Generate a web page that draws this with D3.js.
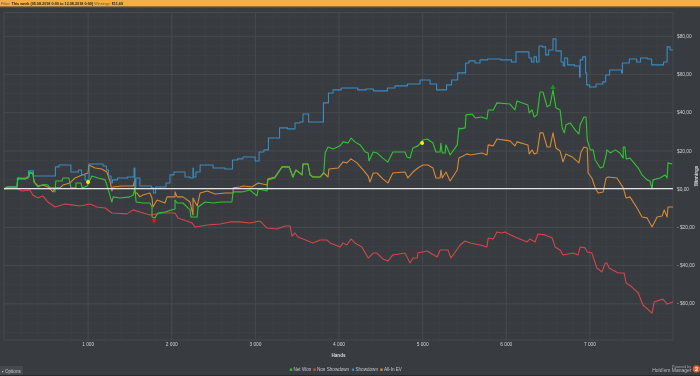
<!DOCTYPE html>
<html>
<head>
<meta charset="utf-8">
<script src="https://cdn.jsdelivr.net/npm/d3@7"></script>
<style>
  html, body { margin: 0; padding: 0; background: #383b3f; overflow: hidden; }
  text { font-family: "Liberation Sans", sans-serif; }
  svg { filter: blur(0.3px); }
</style>
</head>
<body>
<div id="chart"></div>
<script>
// Values: [hands, dollars]
const showdown = [[0,0],[50,.9],[155,.9],[165,5.6],[250,5.6],[285,6.1],[300,9.3],[345,9.3],[360,6.6],[610,6.6],[620,11.4],[695,12.4],[800,12.4],[800,8.7],[860,8.7],[920,9.8],[935,7.2],[1005,4.5],[1030,12.9],[1150,12.9],[1220,11.9],[1230,9.8],[1270,6.6],[1290,3],[1305,4.6],[1410,5.6],[1545,6.1],[1565,10.8],[1565,.9],[1590,5.6],[1660,1.4],[1745,1.4],[1780,.4],[1795,-2.3],[1830,.9],[1925,.9],[1950,3],[2020,7.2],[2045,8.7],[2140,8.7],[2190,6.1],[2260,5.6],[2260,10.8],[2270,6.1],[2320,8.7],[2370,12.4],[2440,12.4],[2560,10.8],[2725,10.3],[2740,15],[2845,15.6],[2870,16.6],[2965,16.6],[3040,14.5],[3060,19.2],[3155,20.3],[3170,26.5],[3265,26.5],[3325,31.8],[3455,31.3],[3505,34.4],[3575,34.9],[3575,39.1],[3635,39.1],[3650,34.9],[3815,34.9],[3825,44.9],[3875,44.9],[3885,50.1],[3985,51.7],[4080,52.7],[4200,52.7],[4260,51.7],[4400,52.2],[4435,51.2],[4555,51.2],[4615,52.7],[4735,53.8],[4915,54.8],[5035,56.9],[5155,54.8],[5190,51.7],[5275,51.7],[5310,54.3],[5395,56.9],[5455,60.6],[5515,60.6],[5525,65.8],[5595,66.9],[5670,65.8],[5715,67.4],[5850,67.9],[6030,67.4],[6110,66.3],[6135,71.6],[6265,71.6],[6290,68.4],[6325,66.3],[6350,69],[6385,66.3],[6410,74.7],[6460,74.2],[6495,70],[6530,72.6],[6565,72.6],[6565,78.4],[6600,78.4],[6600,72.1],[6650,72.1],[6675,66.3],[6700,64.2],[6710,68.4],[6770,64.8],[6875,64.2],[6890,58.5],[6890,67.4],[6950,69],[6960,60.6],[6975,54.3],[7030,53.2],[7130,54.8],[7190,55.9],[7200,59.5],[7285,62.1],[7380,62.1],[7390,60.6],[7400,65.8],[7465,65.8],[7490,67.9],[7560,67.9],[7570,66.3],[7655,68.4],[7740,67.9],[7750,64.8],[7845,64.8],[7930,66.3],[7930,74.2],[8000,72.6]];

const netWon = [[0,0],[50,.9],[155,.9],[165,5.6],[250,5.1],[300,6.1],[300,8.7],[345,8.2],[360,3.5],[405,.9],[455,1.9],[490,2.2],[525,1.9],[550,.4],[600,.4],[610,-1.7],[620,4],[695,4],[705,5.6],[775,5.6],[800,.4],[860,.4],[860,3],[920,3],[935,.4],[995,1.4],[1030,4.6],[1050,6.6],[1125,5.6],[1210,4.6],[1230,1.9],[1290,-7],[1305,-4.3],[1385,-4.9],[1505,-4.3],[1545,-3.3],[1565,.4],[1580,-7],[1660,-7.5],[1745,-7.5],[1770,-9.6],[1770,-14.8],[1805,-15.3],[1840,-12.7],[1925,-12.2],[2045,-10.6],[2045,-5.9],[2070,-7.5],[2140,-7.5],[2225,-11.1],[2235,-14.8],[2310,-14.8],[2320,-9.6],[2405,-7],[2500,-7.5],[2605,-7],[2725,-7],[2740,-1.7],[2845,-1.7],[2940,-.7],[3025,-3.8],[3040,-.2],[3145,-1.2],[3155,4.6],[3240,5.6],[3325,11.4],[3410,11.4],[3455,6.1],[3490,9.8],[3565,7.2],[3575,12.9],[3635,12.9],[3660,7.2],[3695,6.1],[3780,6.1],[3825,8.7],[3840,18.7],[3875,21.8],[3935,20.8],[4020,22.4],[4055,24.5],[4115,23.9],[4150,26.5],[4195,24.5],[4260,22.9],[4320,19.2],[4355,18.7],[4365,14.5],[4415,19.2],[4460,18.7],[4530,16],[4590,13.9],[4650,19.2],[4795,19.2],[4820,16.6],[4855,16],[4890,21.3],[4950,22.4],[5010,25.5],[5060,26],[5130,23.9],[5165,19.2],[5215,19.2],[5225,23.9],[5240,18.7],[5275,18.7],[5285,22.9],[5335,17.6],[5420,22.9],[5440,31.8],[5455,31.3],[5515,31.8],[5525,38.6],[5595,39.1],[5635,37],[5715,37.5],[5775,36.5],[5790,41.2],[5850,41.2],[5895,44.9],[6050,44.3],[6110,41.2],[6135,45.9],[6265,43.8],[6280,39.6],[6315,41.2],[6340,37.5],[6375,38.6],[6410,50.6],[6445,50.6],[6495,42.8],[6530,43.8],[6565,51.7],[6600,42.3],[6650,41.2],[6675,31.8],[6700,29.2],[6720,33.4],[6770,34.4],[6830,30.8],[6875,28.6],[6890,33.4],[6935,37.5],[6960,37.5],[6975,25.5],[7010,20.3],[7045,20.3],[7070,15],[7130,10.8],[7165,11.4],[7200,17.6],[7210,20.3],[7250,18.7],[7310,20.3],[7365,18.7],[7405,16],[7405,21.8],[7425,21.8],[7440,15.6],[7485,16],[7525,13.9],[7585,10.8],[7630,7.2],[7690,4.6],[7725,4],[7750,-.2],[7760,4.6],[7845,5.6],[7905,7.2],[7930,5.6],[7940,13.5],[7990,12.9]];

const nonShowdown = [[0,0],[155,0],[215,-1.2],[310,-.7],[345,-3.3],[405,-4.9],[465,-3.8],[525,-7],[610,-9.6],[730,-8],[815,-8.5],[910,-9.1],[1030,-8],[1110,-9.6],[1210,-10.1],[1290,-12.7],[1470,-13.2],[1545,-11.1],[1625,-12.2],[1745,-13.8],[1900,-12.7],[2045,-12.7],[2080,-15.3],[2250,-18],[2285,-20.1],[2430,-19],[2585,-18.5],[2705,-17.4],[2820,-17.4],[2940,-18],[3060,-16.9],[3145,-20.6],[3265,-21.1],[3360,-19.5],[3420,-19.5],[3445,-24.8],[3480,-23.2],[3515,-25.3],[3695,-28.4],[3780,-26.9],[3865,-26.9],[3900,-28.4],[4020,-30.5],[4055,-28.4],[4100,-29.5],[4150,-26.3],[4195,-28.4],[4280,-30.5],[4355,-36.3],[4415,-33.7],[4460,-33.7],[4530,-36.8],[4590,-37.9],[4650,-34.7],[4795,-33.7],[4855,-38.9],[4890,-36.3],[4940,-36.3],[4950,-33.7],[5060,-32.6],[5180,-35.8],[5215,-32.1],[5310,-32.1],[5345,-36.3],[5455,-29.5],[5515,-27.4],[5575,-28.4],[5695,-29.5],[5775,-30.5],[5790,-25.8],[5850,-26.3],[5895,-22.7],[5955,-23.2],[5990,-22.7],[6110,-25.3],[6255,-27.9],[6290,-26.3],[6350,-27.9],[6385,-23.7],[6470,-24.2],[6555,-25.8],[6590,-30.5],[6650,-32.1],[6685,-34.7],[6805,-33.7],[6865,-34.7],[6890,-30.5],[6950,-31],[6975,-33.1],[7030,-33.7],[7090,-41.5],[7150,-43.6],[7190,-38.9],[7210,-38.9],[7235,-41.5],[7345,-44.1],[7415,-44.1],[7440,-49.4],[7510,-51.5],[7585,-54.6],[7640,-60.9],[7750,-65.1],[7775,-59.3],[7880,-57.8],[7930,-60.4],[8000,-59.3]];

const allInEv = [[0,0],[50,.9],[155,.9],[165,5.1],[250,5.1],[285,5.6],[310,8.2],[345,8],[360,3.5],[405,1.4],[465,1.9],[525,.9],[585,-1.7],[610,.4],[670,.4],[705,1.9],[790,3],[850,5.6],[935,7.2],[1005,8.2],[1015,12.4],[1090,10.8],[1170,10.3],[1230,8.7],[1270,3.5],[1290,-1.2],[1305,.9],[1410,1.4],[1545,1.4],[1565,4.6],[1565,-2.3],[1590,-2.3],[1625,-4.3],[1660,-3.3],[1745,-2.3],[1770,-4.9],[1780,-9.6],[1830,-5.9],[1925,-7.5],[1950,-4.3],[2045,-4.3],[2045,-1.7],[2070,-4.3],[2140,-4.3],[2225,-7],[2260,-13.8],[2260,-4.9],[2310,-9.1],[2345,-2.3],[2430,-1.2],[2525,-2.8],[2645,-2.3],[2740,-2.3],[2740,.4],[2820,.9],[2860,1.4],[2965,.9],[3040,3],[3145,1.9],[3155,5.1],[3240,6.1],[3325,11.4],[3410,11.4],[3455,6.1],[3490,9.8],[3565,7.2],[3575,12.9],[3635,12.9],[3660,7.2],[3695,6.1],[3780,6.1],[3825,8.2],[3875,6.1],[3885,10.3],[3995,10.8],[4055,14],[4100,13.5],[4150,15.6],[4220,13.5],[4295,9.8],[4355,6.6],[4375,3.5],[4415,8.2],[4460,8.2],[4530,5.1],[4590,3],[4650,8.2],[4795,8.7],[4830,5.6],[4890,8.7],[4950,10.8],[5010,12.4],[5070,12.4],[5130,10.8],[5165,5.6],[5215,5.6],[5225,9.8],[5240,5.6],[5285,8.7],[5335,4],[5420,9.8],[5440,16.1],[5490,17.1],[5535,18.2],[5575,17.6],[5715,18.7],[5775,17.6],[5790,22.9],[5850,22.4],[5895,26],[6050,25],[6110,22.4],[6135,24.5],[6265,22.9],[6280,18.2],[6315,20.3],[6340,18.2],[6375,18.7],[6410,29.2],[6445,29.2],[6495,21.8],[6530,21.8],[6565,29.2],[6600,21.3],[6650,19.7],[6685,14],[6720,18.2],[6795,16.6],[6875,13.5],[6900,19.2],[6935,21.8],[6975,21.3],[6985,8.2],[7030,5.6],[7070,.4],[7105,-2.3],[7165,-1.7],[7200,5.6],[7225,6.1],[7330,5.6],[7405,.4],[7440,-4.9],[7485,-4.3],[7570,-10.1],[7630,-14.8],[7690,-15.3],[7750,-20.1],[7810,-14.8],[7870,-14.3],[7895,-11.1],[7930,-14.8],[7940,-9.6],[8000,-9.6]];

const xTicks = [1000, 2000, 3000, 4000, 5000, 6000, 7000];
const yTicks = [-60, -40, -20, 0, 20, 40, 60, 80];
const allInMarks = [[1005, 3.5], [5000, 23.9]];
const lowMark = [[1795, -16.8]];
const highMark = [[6565, 53]];

const legendNames = ["Net Won", "Non Showdown", "Showdown", "All-In EV"];
const legendColors = ["#33c433", "#d0474c", "#3a8bc2", "#d68a38"];
const legendX = [291, 314.5, 353, 381.5];

const W = 700, H = 376;
const plot = { left: 4, right: 673, top: 12.5, bottom: 340 };

const svg = d3.select("#chart").append("svg")
  .attr("width", W).attr("height", H)
  .style("display", "block");

svg.append("rect").attr("width", W).attr("height", H).attr("fill", "#383b3f");

// Header strip
svg.append("rect").attr("width", W).attr("height", 6.5).attr("fill", "#f4ae45");
svg.append("rect").attr("y", 6.5).attr("width", W).attr("height", 0.8).attr("fill", "#8d7444");
const header = svg.append("text").attr("x", 1).attr("y", 4.8)
  .attr("font-size", 3.75).attr("fill", "#6d5726");
header.append("tspan").text("Filter: ");
header.append("tspan").attr("font-weight", 700).attr("fill", "#2a2110")
  .text("This week (05.08.2018 0:00 to 12.08.2018 0:00)");
header.append("tspan").text(" Winnings: ");
header.append("tspan").attr("font-weight", 700).attr("fill", "#2a2110").text("$11,69");

// Scales
const x = d3.scaleLinear().domain([0, 8000]).range([plot.left, plot.right]);
const y = d3.scaleLinear().domain([-79.2, 92.2]).range([plot.bottom, plot.top]);

// Grid
const gridV = (ticks, color) => svg.append("g")
  .attr("transform", `translate(0,${plot.bottom})`)
  .call(d3.axisBottom(x).tickValues(ticks).tickSize(plot.top - plot.bottom).tickFormat(""))
  .call(g => g.select(".domain").remove())
  .call(g => g.selectAll("line").attr("stroke", color).attr("stroke-width", 1));
const gridH = (ticks, color) => svg.append("g")
  .attr("transform", `translate(${plot.left},0)`)
  .call(d3.axisLeft(y).tickValues(ticks).tickSize(plot.left - plot.right).tickFormat(""))
  .call(g => g.select(".domain").remove())
  .call(g => g.selectAll("line").attr("stroke", color).attr("stroke-width", 1));

gridV(d3.range(200, 8000, 200), "#3d4044");
gridH(d3.range(-75, 92, 5), "#3d4044");
gridV(xTicks, "#47494e");
gridH(yTicks, "#47494e");

svg.append("rect")
  .attr("x", plot.left).attr("y", plot.top)
  .attr("width", plot.right - plot.left).attr("height", plot.bottom - plot.top)
  .attr("fill", "none").attr("stroke", "#4b4e52").attr("stroke-width", 0.8);

// Axes labels
const xAxis = svg.append("g")
  .attr("transform", `translate(0,${plot.bottom})`)
  .call(d3.axisBottom(x).tickValues(xTicks).tickSize(0).tickPadding(3)
    .tickFormat(d => d3.format(",")(d).replace(",", " ")));
xAxis.select(".domain").remove();
xAxis.selectAll("text").attr("font-size", 4.8).attr("font-family", null).attr("fill", "#d0d2d4");

const yAxis = svg.append("g")
  .attr("transform", `translate(${plot.right},0)`)
  .call(d3.axisRight(y).tickValues(yTicks).tickSize(0).tickPadding(4)
    .tickFormat(d => (d < 0 ? "- $" : "$") + Math.abs(d) + ",00"));
yAxis.select(".domain").remove();
yAxis.selectAll("text").attr("font-size", 4.8).attr("font-family", null).attr("fill", "#d0d2d4");

svg.append("text").attr("x", 338.5).attr("y", 356.5).attr("text-anchor", "middle")
  .attr("font-size", 4.6).attr("font-weight", 700).attr("fill", "#d8dadc").text("Hands");
svg.append("text").attr("transform", "translate(698,176) rotate(-90)").attr("text-anchor", "middle")
  .attr("font-size", 4.6).attr("font-weight", 700).attr("fill", "#d8dadc").text("Winnings");

// Lines: showdown moves in clear steps, the others are traced closely enough
const line = d3.line().x(d => x(d[0])).y(d => y(d[1]));
const stepLine = d3.line().x(d => x(d[0])).y(d => y(d[1])).curve(d3.curveStep);
const series = [
  [allInEv, legendColors[3], line],
  [showdown, legendColors[2], stepLine],
  [nonShowdown, legendColors[1], line],
  [netWon, legendColors[0], line]
];
series.forEach(([data, color, path]) => {
  svg.append("path").datum(data)
    .attr("fill", "none").attr("stroke", color).attr("stroke-width", 1.1)
    .attr("stroke-linejoin", "round")
    .attr("d", path);
});

// Zero line
svg.append("line")
  .attr("x1", plot.left).attr("x2", plot.right)
  .attr("y1", y(0)).attr("y2", y(0))
  .attr("stroke", "#e4e4e4").attr("stroke-width", 1.4);

// Markers
const sym = (data, type, color, size) => svg.append("g").selectAll("path").data(data).join("path")
  .attr("transform", d => `translate(${x(d[0])},${y(d[1])})`)
  .attr("d", d3.symbol().type(type).size(size))
  .attr("fill", color);
sym(allInMarks, d3.symbolCircle, "#f5ee1e", 12);
sym(lowMark, d3.symbolTriangle, "#e81414", 12).attr("transform", d => `translate(${x(d[0])},${y(d[1])}) rotate(180)`);
sym(highMark, d3.symbolTriangle, "#129a12", 12);

// Legend
const legend = svg.append("g").selectAll("g").data(legendNames).join("g")
  .attr("transform", (d, i) => `translate(${legendX[i]},369.7)`);
legend.append("rect").attr("x", -1.2).attr("y", -1.2).attr("width", 2.4).attr("height", 2.4)
  .attr("fill", (d, i) => legendColors[i]);
legend.append("text").attr("x", 2.5).attr("y", 1.7).attr("font-size", 4.6)
  .attr("fill", "#c4c6c8").text(d => d);

// Options button
svg.append("rect").attr("y", 366).attr("width", 23).attr("height", 9).attr("fill", "#46494d");
svg.append("text").attr("x", 2).attr("y", 372.5).attr("font-size", 4.6).attr("fill", "#c4c6c8").text("▪ Options");

// Bottom edge
svg.append("rect").attr("y", 375).attr("width", W).attr("height", 1).attr("fill", "#26282b");

// Branding
svg.append("text").attr("x", 691).attr("y", 367.5).attr("text-anchor", "end")
  .attr("font-size", 3.6).attr("fill", "#a4a6a8").text("Powered by");
svg.append("text").attr("x", 691.5).attr("y", 372).attr("text-anchor", "end")
  .attr("font-size", 5).attr("fill", "#b8babc").text("Hold'em Manager");
svg.append("circle").attr("cx", 696.5).attr("cy", 369).attr("r", 3.8).attr("fill", "#d9632a");
svg.append("text").attr("x", 696.5).attr("y", 371).attr("text-anchor", "middle")
  .attr("font-size", 5.5).attr("font-weight", 700).attr("fill", "#fff").text("2");
</script>
</body>
</html>
